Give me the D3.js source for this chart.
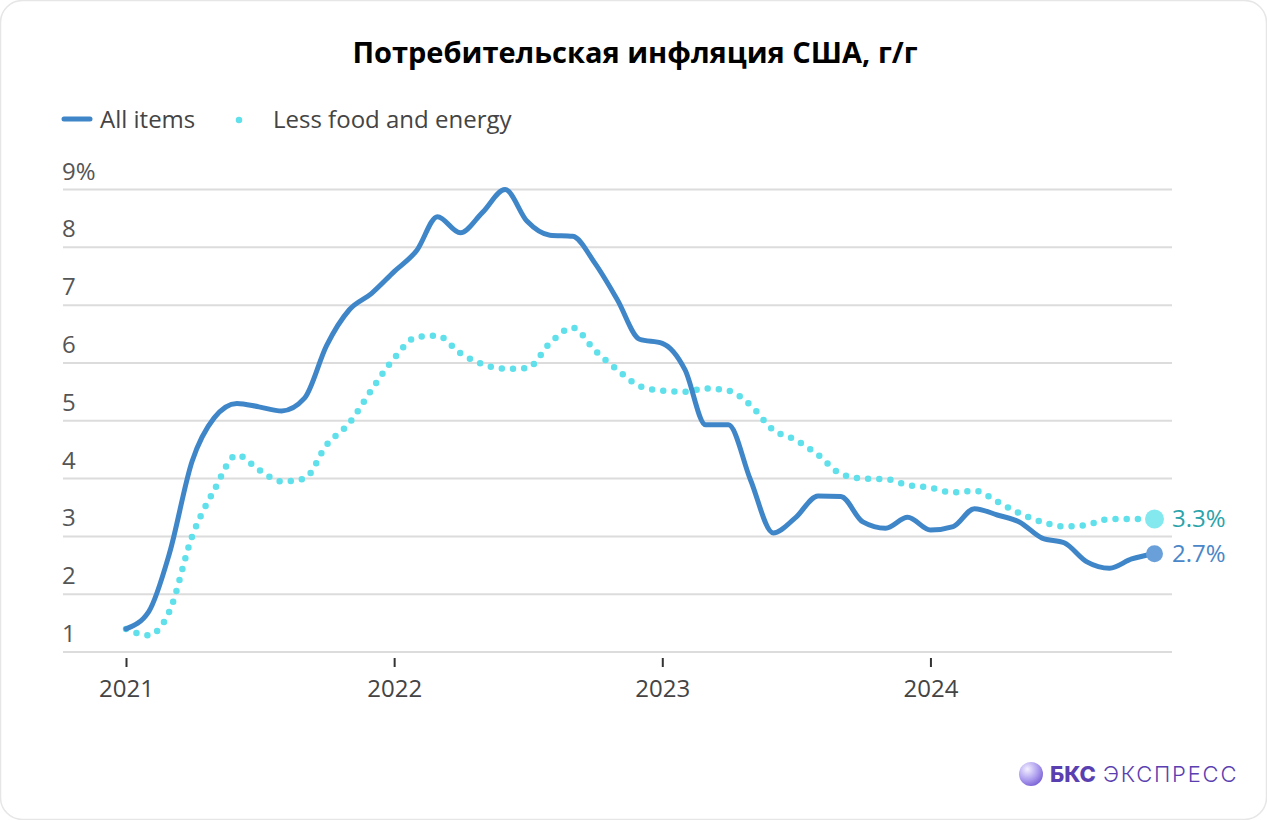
<!DOCTYPE html>
<html><head><meta charset="utf-8">
<script src="https://cdn.jsdelivr.net/npm/d3@7"></script>
<style>
html,body{margin:0;padding:0;background:#fff;}
svg{display:block;}
</style></head>
<body>
<svg id="chart" width="1267" height="820"></svg>
<script>
// Data: monthly, Jan 2021 .. Nov 2024, YoY %
const startYear = 2021;
const allItems = [1.4,1.7,2.7,4.3,5.05,5.3,5.24,5.17,5.39,6.3,6.92,7.2,
  7.58,7.95,8.53,8.25,8.6,9.0,8.45,8.21,8.19,7.73,7.09,6.41,
  6.34,5.88,4.93,4.93,3.98,3.06,3.32,3.7,3.69,3.25,3.14,3.33,
  3.11,3.17,3.48,3.37,3.25,2.97,2.89,2.56,2.45,2.61,2.7];
const coreItems = [1.4,1.29,1.7,3.0,3.8,4.41,4.15,3.95,4.0,4.58,4.96,5.53,
  6.08,6.45,6.47,6.17,5.98,5.9,5.91,6.34,6.61,6.22,5.88,5.6,
  5.52,5.5,5.56,5.52,5.27,4.84,4.67,4.41,4.08,4.0,3.99,3.89,
  3.84,3.76,3.79,3.6,3.4,3.25,3.17,3.2,3.3,3.3,3.3];
const yTicks = [1,2,3,4,5,6,7,8,9];
const xTickYears = [2021,2022,2023,2024];
const seriesNames = ["All items","Less food and energy"];
const endLabels = ["2.7%","3.3%"];
const title = "Потребительская инфляция США, г/г";

const svg = d3.select("#chart");
const font = "'Open Sans', 'Noto Sans', sans-serif";
const fs = 24;

// card
svg.append("rect").attr("x",0.5).attr("y",0.5).attr("width",1266).attr("height",819)
  .attr("rx",22).attr("fill","#fff").attr("stroke","#e6e6e6").attr("stroke-width",1.5);

// title
svg.append("text").attr("x",635).attr("y",63).attr("text-anchor","middle")
  .attr("font-family",font).attr("font-weight",700).attr("font-size",29)
  .attr("fill","#000").text(title);

const toDate = i => new Date(startYear, i, 1);
const x = d3.scaleTime().domain([new Date(2021,0,1), new Date(2024,10,1)]).range([126,1154.5]);
const y = d3.scaleLinear().domain([1,9]).range([652,189.5]);

const colBlue = "#3f86c9", colCyan = "#5fe0ea";

// grid
const grid = svg.append("g");
grid.selectAll("line").data(yTicks).join("line")
  .attr("x1",63).attr("x2",1172).attr("y1",d=>y(d)).attr("y2",d=>y(d))
  .attr("stroke","#dcdcdc").attr("stroke-width",2);
grid.selectAll("text").data(yTicks).join("text")
  .attr("x",62).attr("y",d=>y(d)-10).attr("font-family",font).attr("font-size",fs)
  .attr("fill","#555").text(d=> d===9 ? "9%" : d);

// x axis
const xAxis = d3.axisBottom(x)
  .tickValues(xTickYears.map(yr=>new Date(yr,0,1)))
  .tickFormat(d3.timeFormat("%Y")).tickSize(10).tickPadding(14);
const gx = svg.append("g").attr("transform",`translate(0,${y(1)+4})`).call(xAxis);
gx.select(".domain").remove();
gx.selectAll(".tick line").attr("stroke","#333").attr("stroke-width",2).attr("y1",2).attr("y2",11);
gx.selectAll(".tick text").attr("font-family",font).attr("font-size",fs).attr("fill","#444");

// lines
const line = d3.line().x((d,i)=>x(toDate(i))).y(d=>y(d)).curve(d3.curveMonotoneX);

svg.append("path").datum(coreItems).attr("d",line).attr("fill","none")
  .attr("stroke",colCyan).attr("stroke-width",6.5).attr("stroke-linecap","round")
  .attr("stroke-dasharray","0 11.2");
svg.append("path").datum(allItems).attr("d",line).attr("fill","none")
  .attr("stroke",colBlue).attr("stroke-width",5).attr("stroke-linejoin","round").attr("stroke-linecap","round");

// end markers
const lastI = allItems.length-1;
svg.append("circle").attr("cx",x(toDate(lastI))).attr("cy",y(coreItems[lastI])).attr("r",9.5)
  .attr("fill","#84e9ef");
svg.append("circle").attr("cx",x(toDate(lastI))).attr("cy",y(allItems[lastI])).attr("r",8.5)
  .attr("fill","#6aa0da");
svg.append("text").attr("x",1172).attr("y",y(coreItems[lastI])+8).attr("font-family",font)
  .attr("font-size",fs).attr("fill","#2aa3aa").text(endLabels[1]);
svg.append("text").attr("x",1172).attr("y",y(allItems[lastI])+8).attr("font-family",font)
  .attr("font-size",fs).attr("fill","#4a86c8").text(endLabels[0]);

// legend
const lg = svg.append("g");
lg.append("line").attr("x1",64).attr("x2",90).attr("y1",119).attr("y2",119)
  .attr("stroke",colBlue).attr("stroke-width",5).attr("stroke-linecap","round");
lg.append("text").attr("x",100).attr("y",128).attr("font-family",font).attr("font-size",fs)
  .attr("fill","#444").text(seriesNames[0]);
lg.append("line").attr("x1",239).attr("x2",251).attr("y1",120).attr("y2",120)
  .attr("stroke",colCyan).attr("stroke-width",6.5).attr("stroke-linecap","round")
  .attr("stroke-dasharray","0 12");
lg.append("text").attr("x",273).attr("y",128).attr("font-family",font).attr("font-size",fs)
  .attr("fill","#444").text(seriesNames[1]);

// logo
const defs = svg.append("defs");
const rg = defs.append("radialGradient").attr("id","lg").attr("cx","35%").attr("cy","30%").attr("r","75%");
rg.append("stop").attr("offset","0%").attr("stop-color","#f4f0ff");
rg.append("stop").attr("offset","55%").attr("stop-color","#b3a4f0");
rg.append("stop").attr("offset","100%").attr("stop-color","#7a62d6");
svg.append("circle").attr("cx",1031).attr("cy",774).attr("r",12).attr("fill","url(#lg)");
const lt = svg.append("text").attr("x",1050).attr("y",782).attr("font-family","'Inter', 'Noto Sans', sans-serif")
  .attr("font-size",22).attr("fill","#5a3fb0");
lt.append("tspan").attr("font-weight",800).text("БКС");
lt.append("tspan").attr("font-weight",300).attr("dx",7).attr("letter-spacing",1.8).text("ЭКСПРЕСС");
</script>
</body></html>
